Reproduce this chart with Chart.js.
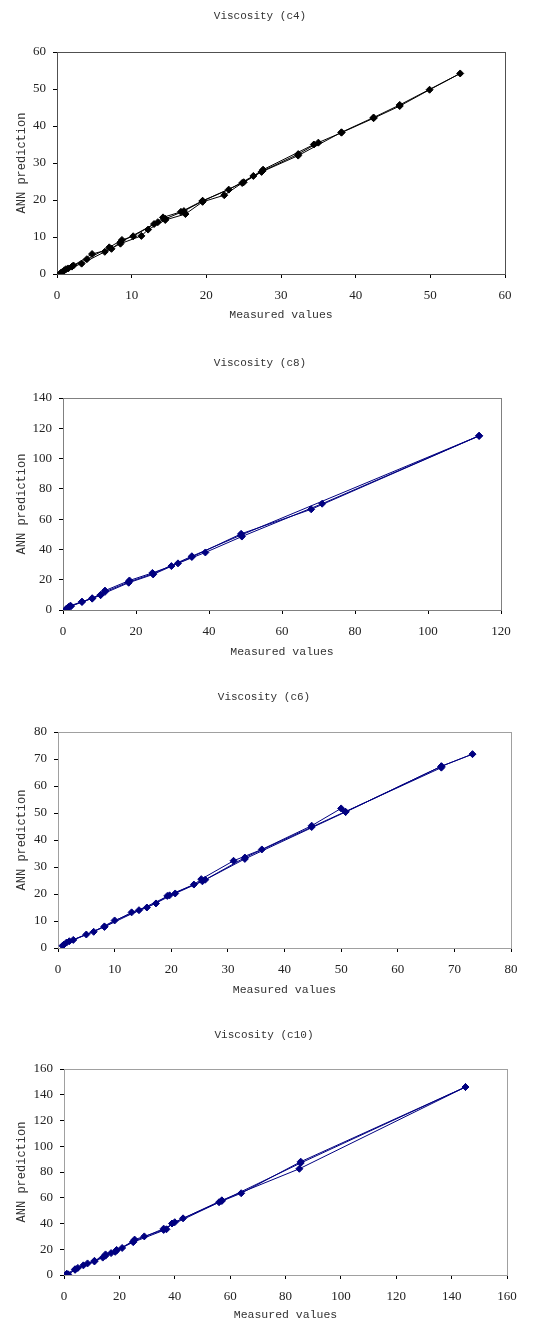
<!DOCTYPE html>
<html>
<head>
<meta charset="utf-8">
<script src="https://cdn.jsdelivr.net/npm/chart.js@4"></script>
<style>
  html, body { margin: 0; padding: 0; background: #fff; }
  body { width: 548px; height: 1322px; position: relative; overflow: hidden; }
  .box { position: absolute; left: 0; width: 548px; }
</style>
</head>
<body>
<div class="box" style="top:0;height:330px"><canvas id="c4"></canvas></div>
<div class="box" style="top:330px;height:330px"><canvas id="c8"></canvas></div>
<div class="box" style="top:660px;height:340px"><canvas id="c6"></canvas></div>
<div class="box" style="top:1000px;height:322px"><canvas id="c10"></canvas></div>
<script>
// --- data (measured vs ANN prediction, in data order) ---
const c4Measured = [0.5, 1, 2, 4, 7, 8.7, 10.2, 13, 14.2, 16.6, 19.5, 23, 26.3, 27.6, 34.4, 38.1, 42.4, 45.9, 49.9, 54,
  45.9, 42.4, 38.1, 32.3, 27.4, 24.8, 22.4, 19.5, 17.2, 14.5, 12.2, 11.3, 8.5, 6.4, 3.3, 1.5, 0.7,
  1.2, 2.2, 4.7, 7.3, 8.5, 13.5, 14.5, 17, 19.5, 25, 27.5, 32.3, 35];
const c4Predicted = [0.3, 1, 2, 4, 7.2, 9.2, 10.2, 13.5, 15.3, 16.8, 19.8, 22.8, 26.5, 28.2, 35, 38.2, 42.1, 45.4, 49.8, 54.2,
  45.7, 42.3, 38.3, 32, 27.6, 24.6, 21.3, 19.5, 16.2, 14.6, 12, 10.3, 8.2, 6, 2.8, 1.5, 0.5,
  1.3, 2.3, 5.4, 6.8, 8.6, 14, 14.9, 17, 19.7, 24.8, 27.8, 32.4, 35.5];

const c8Measured = [0.8, 1, 2, 5.2, 8, 10.3, 11.5, 18.2, 24.5, 29.7, 35.3, 48.8, 68, 114,
  71, 49, 39, 31.5, 24.7, 18, 10.3, 5.2, 2.2, 1,
  1.5, 8, 11.5, 18, 24.7, 35.3, 48.8, 114];
const c8Predicted = [0.3, 1, 2.8, 5.5, 7.5, 9.8, 12.8, 19.5, 24.5, 29, 35, 50.3, 66.5, 115,
  70.2, 48.5, 38, 30.8, 23.5, 18, 10, 5.3, 2.5, 0.5,
  2, 7.8, 12, 18.5, 24, 35.5, 49.5, 115];

const c6Measured = [0.8, 2, 5, 8.2, 13, 17.3, 19.3, 24, 25.3, 31, 36, 44.8, 50, 50.8, 67.7, 73.2,
  67.7, 50.8, 33, 25.5, 20.7, 15.7, 10, 6.3, 2.7, 1,
  1.5, 8.2, 14.3, 19.7, 26, 33, 44.8, 67.7];
const c6Predicted = [0.8, 2.5, 5, 8, 13.2, 16.5, 19.3, 23.5, 25.5, 32.3, 36.5, 45.3, 51.7, 50.4, 67.3, 71.8,
  67.3, 50.4, 33, 24.7, 20.2, 15, 10.2, 6, 3, 1.2,
  2, 7.8, 14, 19.5, 25.3, 33.5, 44.8, 66.8];

const c10Measured = [1, 4, 7, 11, 15, 18.5, 21, 25.5, 29, 36, 40, 43, 56, 64, 85.5, 145,
  85, 57, 39, 37, 25, 19, 17, 14, 8.5, 5, 1.5,
  4, 11, 15, 19, 25, 36, 57, 85.5, 145];
const c10Predicted = [1, 4.5, 7.5, 11, 16, 18, 21, 27.5, 30, 35, 41, 44, 56.5, 63.5, 88, 146,
  82.5, 58, 40, 35.5, 25.5, 19, 17, 13.5, 9, 5.5, 0.5,
  4, 10.5, 15, 19.5, 26, 36, 57.5, 87, 146];

// tick labels
const c4XTicks = [0, 10, 20, 30, 40, 50, 60];
const c4YTicks = [0, 10, 20, 30, 40, 50, 60];
const c8XTicks = [0, 20, 40, 60, 80, 100, 120];
const c8YTicks = [0, 20, 40, 60, 80, 100, 120, 140];
const c6XTicks = [0, 10, 20, 30, 40, 50, 60, 70, 80];
const c6YTicks = [0, 10, 20, 30, 40, 50, 60, 70, 80];
const c10XTicks = [0, 20, 40, 60, 80, 100, 120, 140, 160];
const c10YTicks = [0, 20, 40, 60, 80, 100, 120, 140, 160];

const monoFamily = '"Liberation Mono", "DejaVu Sans Mono", monospace';
const tickFont = { family: '"Liberation Serif", "DejaVu Serif", serif', size: 13 };

// gray box around the plot area (top/right edges like the Excel frame)
const frame = {
  id: 'frame',
  beforeDatasetsDraw(chart, args, opts) {
    const a = chart.chartArea, ctx = chart.ctx;
    ctx.save();
    ctx.strokeStyle = opts.color || '#808080';
    ctx.lineWidth = 1;
    ctx.strokeRect(Math.round(a.left) + 0.5, Math.round(a.top) + 0.5,
      Math.round(a.right - a.left), Math.round(a.bottom - a.top));
    ctx.restore();
  }
};

function makeChart(id, cfg) {
  const pts = cfg.xs.map((x, i) => ({ x: x, y: cfg.ys[i] }));
  new Chart(document.getElementById(id), {
    type: 'scatter',
    data: {
      datasets: [{
        data: pts,
        showLine: true,
        borderColor: cfg.color,
        backgroundColor: cfg.color,
        borderWidth: 1,
        pointStyle: 'rectRot',
        pointRadius: 3.5,
        pointHoverRadius: 3.5
      }]
    },
    options: {
      responsive: true,
      maintainAspectRatio: false,
      animation: false,
      events: [],
      layout: { padding: { left: cfg.padLeft, top: 0, right: cfg.padRight, bottom: 0 } },
      plugins: {
        legend: { display: false },
        tooltip: { enabled: false },
        frame: { color: cfg.frameColor },
        title: {
          display: true,
          text: cfg.title,
          color: '#333',
          font: { family: monoFamily, size: 11, weight: 'normal' },
          padding: { top: cfg.titleTop, bottom: cfg.titleBottom }
        }
      },
      scales: {
        x: {
          type: 'linear',
          min: cfg.xTicks[0],
          max: cfg.xTicks[cfg.xTicks.length - 1],
          afterBuildTicks: s => { s.ticks = cfg.xTicks.map(v => ({ value: v })); },
          afterFit: s => { s.height = cfg.xAxisH; },
          grid: { drawOnChartArea: false, tickLength: 4, color: '#000' },
          border: { color: '#000' },
          ticks: { font: tickFont, color: '#222', padding: 10, maxRotation: 0 },
          title: {
            display: true,
            text: 'Measured values',
            color: '#333',
            font: { family: monoFamily, size: 11.5 },
            padding: { top: 0, bottom: cfg.xTitleBottom }
          }
        },
        y: {
          type: 'linear',
          min: cfg.yTicks[0],
          max: cfg.yTicks[cfg.yTicks.length - 1],
          afterBuildTicks: s => { s.ticks = cfg.yTicks.map(v => ({ value: v })); },
          afterFit: s => { s.width = cfg.yAxisW; },
          grid: { drawOnChartArea: false, tickLength: 4, color: '#000' },
          border: { color: '#000' },
          ticks: { font: tickFont, color: '#222', padding: 7 },
          title: {
            display: true,
            text: 'ANN prediction',
            color: '#333',
            font: { family: monoFamily, size: 12 },
            padding: { top: cfg.yTitlePad, bottom: 0 }
          }
        }
      }
    },
    plugins: [frame]
  });
}

makeChart('c4', {
  title: 'Viscosity (c4)', xs: c4Measured, ys: c4Predicted, xTicks: c4XTicks, yTicks: c4YTicks,
  color: '#000', frameColor: '#505050',
  titleTop: 9.4, titleBottom: 29.4, padLeft: 15, yAxisW: 42, yTitlePad: 0, padRight: 43,
  xAxisH: 56, xTitleBottom: 8
});
makeChart('c8', {
  title: 'Viscosity (c8)', xs: c8Measured, ys: c8Predicted, xTicks: c8XTicks, yTicks: c8YTicks,
  color: '#000080', frameColor: '#808080',
  titleTop: 26.4, titleBottom: 28.4, padLeft: 19, yAxisW: 44, yTitlePad: -4, padRight: 47,
  xAxisH: 50, xTitleBottom: 1
});
makeChart('c6', {
  title: 'Viscosity (c6)', xs: c6Measured, ys: c6Predicted, xTicks: c6XTicks, yTicks: c6YTicks,
  color: '#000080', frameColor: '#a0a0a0',
  titleTop: 30.4, titleBottom: 28.4, padLeft: 17, yAxisW: 41, yTitlePad: -2, padRight: 37,
  xAxisH: 52, xTitleBottom: 3
});
makeChart('c10', {
  title: 'Viscosity (c10)', xs: c10Measured, ys: c10Predicted, xTicks: c10XTicks, yTicks: c10YTicks,
  color: '#000080', frameColor: '#a0a0a0',
  titleTop: 28.4, titleBottom: 27.4, padLeft: 21, yAxisW: 43, yTitlePad: -6, padRight: 41,
  xAxisH: 47, xTitleBottom: 0
});
</script>
</body>
</html>
